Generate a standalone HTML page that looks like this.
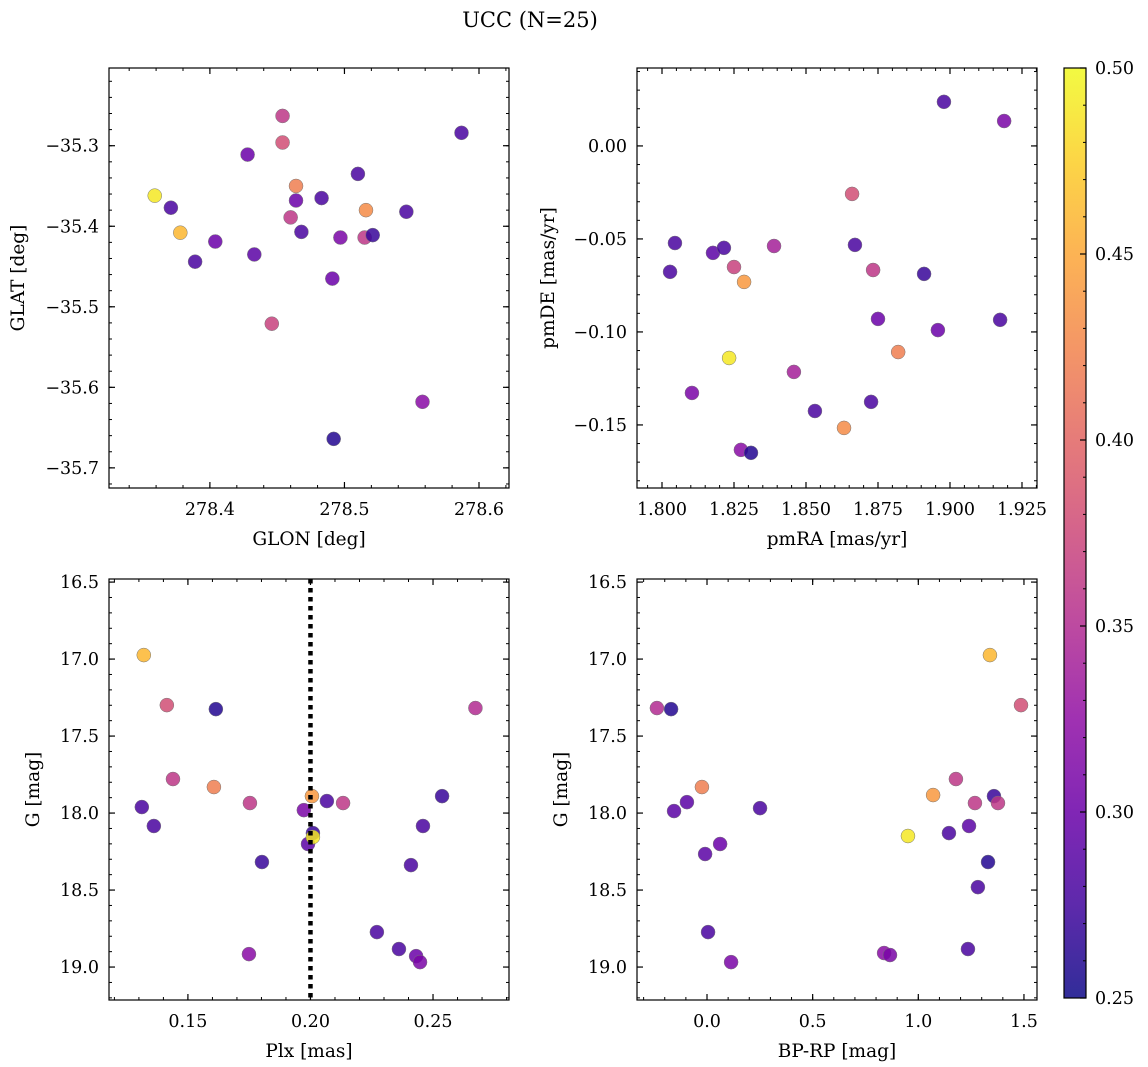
<!DOCTYPE html>
<html><head><meta charset="utf-8"><style>
html,body{margin:0;padding:0;background:#fff}
svg{display:block;font-family:"DejaVu Serif","Liberation Serif",serif}
</style></head><body>
<svg id="fig" width="1148" height="1067" viewBox="0 0 1148 1067">
<text x="530" y="27" font-size="21" text-anchor="middle">UCC (N=25)</text>
</svg>
<script>
// Panel 1: GLON vs GLAT
const glon1=[278.359,278.371,278.378,278.389,278.404,278.428,278.433,278.446,278.454,278.454,278.464,278.460,278.464,278.468,278.483,278.497,278.491,278.492,278.510,278.515,278.516,278.521,278.546,278.558,278.587];
const glat1=[-35.362,-35.377,-35.408,-35.444,-35.419,-35.311,-35.435,-35.521,-35.263,-35.296,-35.350,-35.389,-35.368,-35.407,-35.365,-35.414,-35.465,-35.664,-35.335,-35.414,-35.380,-35.411,-35.382,-35.618,-35.284];
const col1=[0.49,0.28,0.46,0.28,0.30,0.30,0.29,0.37,0.36,0.38,0.42,0.36,0.30,0.28,0.28,0.31,0.30,0.26,0.28,0.36,0.43,0.27,0.28,0.32,0.28];
// Panel 2: pmRA vs pmDE
const pmra2=[1.8028,1.8045,1.8104,1.8177,1.8215,1.825,1.8285,1.8233,1.8274,1.8309,1.8389,1.8458,1.8531,1.8632,1.866,1.867,1.8733,1.8726,1.875,1.882,1.891,1.8979,1.8958,1.9188,1.9174];
const pmde2=[-0.0677,-0.0522,-0.1328,-0.0575,-0.0548,-0.0651,-0.0731,-0.114,-0.1634,-0.165,-0.0538,-0.1215,-0.1425,-0.1516,-0.0258,-0.0532,-0.0667,-0.1376,-0.093,-0.1108,-0.0688,0.0237,-0.099,0.0134,-0.0935];
const col2=[0.28,0.28,0.31,0.29,0.28,0.37,0.44,0.49,0.32,0.26,0.34,0.34,0.28,0.43,0.38,0.28,0.36,0.28,0.30,0.42,0.27,0.28,0.30,0.31,0.28];
// Panel 3: Plx vs G
const plx3=[0.132,0.1312,0.1361,0.1414,0.1439,0.1606,0.1614,0.1753,0.1749,0.1802,0.1973,0.1990,0.2006,0.201,0.201,0.2067,0.2133,0.2271,0.2361,0.241,0.2431,0.2447,0.2459,0.2537,0.2673];
const g3=[16.974,17.961,18.084,17.299,17.779,17.831,17.325,17.935,18.916,18.318,17.981,18.201,17.890,18.13,18.156,17.922,17.935,18.773,18.883,18.338,18.929,18.968,18.084,17.890,17.318];
const col3=[0.46,0.28,0.28,0.38,0.36,0.42,0.26,0.36,0.32,0.27,0.31,0.29,0.44,0.27,0.49,0.28,0.36,0.28,0.28,0.28,0.30,0.31,0.28,0.27,0.35];
const plxLine=0.2;
// Panel 4: BP-RP vs G
const bprp4=[-0.237,-0.170,-0.095,-0.156,-0.024,-0.009,0.062,0.005,0.114,0.251,0.838,0.866,0.951,1.070,1.145,1.178,1.240,1.268,1.282,1.330,1.339,1.235,1.358,1.377,1.486];
const g4=[17.318,17.325,17.929,17.987,17.831,18.266,18.201,18.773,18.968,17.968,18.909,18.922,18.149,17.883,18.13,17.779,18.084,17.935,18.481,18.318,16.974,18.883,17.890,17.935,17.299];
const col4=[0.35,0.26,0.29,0.29,0.42,0.29,0.30,0.28,0.31,0.28,0.32,0.31,0.49,0.44,0.28,0.36,0.29,0.36,0.28,0.26,0.46,0.28,0.27,0.36,0.38];
// tick labels
const xt1=["278.4","278.5","278.6"], yt1=["−35.3","−35.4","−35.5","−35.6","−35.7"];
const xt2=["1.800","1.825","1.850","1.875","1.900","1.925"], yt2=["0.00","−0.05","−0.10","−0.15"];
const xt3=["0.15","0.20","0.25"], yt3=["16.5","17.0","17.5","18.0","18.5","19.0"];
const xt4=["0.0","0.5","1.0","1.5"], yt4=["16.5","17.0","17.5","18.0","18.5","19.0"];
const cbt=["0.25","0.30","0.35","0.40","0.45","0.50"];

const NS="http://www.w3.org/2000/svg";
const svg=document.getElementById('fig');
function el(tag,attrs,parent){const e=document.createElementNS(NS,tag);for(const k in attrs)e.setAttribute(k,attrs[k]);(parent||svg).appendChild(e);return e;}
const stops=["#0d0887","#41049d","#6a00a8","#8f0da4","#b12a90","#cc4778","#e16462","#f2844b","#fca636","#fcce25","#f0f921"];
function hex(h){return[parseInt(h.slice(1,3),16),parseInt(h.slice(3,5),16),parseInt(h.slice(5,7),16)];}
function plasma(t){t=Math.max(0,Math.min(1,t));const f=t*10,i=Math.min(9,Math.floor(f)),r=f-i;const a=hex(stops[i]),b=hex(stops[i+1]);return`rgb(${a.map((v,k)=>Math.round(v+(b[k]-v)*r)).join(',')})`;}
const vmin=0.25,vmax=0.5;
function cmap(v){return plasma((v-vmin)/(vmax-vmin));}
const TF=17.5, LF=18.5;

function panel(o){
  const g=el('g',{});
  
  
  const sx=v=>o.x0+(v-o.xmin)/(o.xmax-o.xmin)*o.w;
  const sy=v=>o.inv? o.y0+(v-o.ymin)/(o.ymax-o.ymin)*o.h : o.y0+(o.ymax-v)/(o.ymax-o.ymin)*o.h;
  for(let i=0;i<o.xs.length;i++){
    const c=el('circle',{cx:sx(o.xs[i]),cy:sy(o.ys[i]),r:7,fill:cmap(o.cs[i]),'fill-opacity':0.85,stroke:'#777','stroke-width':0.5},g);
    
    
  }
  if(o.vline!==undefined){
    const l=el('line',{x1:sx(o.vline),x2:sx(o.vline),y1:o.y0,y2:o.y0+o.h,stroke:'#000','stroke-width':4.5,'stroke-dasharray':'4.5,4.5'},g);
    
    
  }
  const fr=el('rect',{x:o.x0,y:o.y0,width:o.w,height:o.h,fill:'none',stroke:'#000','stroke-width':1.2},g);
  
  
  for(let v=Math.ceil(o.xmin/o.xminor-1e-9)*o.xminor;v<=o.xmax+1e-9;v+=o.xminor){
    const X=sx(v);
    el('line',{x1:X,x2:X,y1:o.y0+o.h,y2:o.y0+o.h-3,stroke:'#000','stroke-width':1},g);
    el('line',{x1:X,x2:X,y1:o.y0,y2:o.y0+3,stroke:'#000','stroke-width':1},g);
  }
  o.xt.forEach((s,i)=>{const v=o.xt0+i*o.xstep,X=sx(v);
    el('line',{x1:X,x2:X,y1:o.y0+o.h,y2:o.y0+o.h-6,stroke:'#000','stroke-width':1.2},g);
    el('line',{x1:X,x2:X,y1:o.y0,y2:o.y0+6,stroke:'#000','stroke-width':1.2},g);
    const t=el('text',{x:X,y:o.y0+o.h+27,'font-size':TF,'text-anchor':'middle'},g);t.textContent=s;
    
    
  });
  for(let v=Math.ceil(o.ymin/o.yminor-1e-9)*o.yminor;v<=o.ymax+1e-9;v+=o.yminor){
    const Y=sy(v);
    el('line',{x1:o.x0,x2:o.x0+3,y1:Y,y2:Y,stroke:'#000','stroke-width':1},g);
    el('line',{x1:o.x0+o.w,x2:o.x0+o.w-3,y1:Y,y2:Y,stroke:'#000','stroke-width':1},g);
  }
  o.yt.forEach((s,i)=>{const v=o.yt0+i*o.ystep,Y=sy(v);
    el('line',{x1:o.x0,x2:o.x0+6,y1:Y,y2:Y,stroke:'#000','stroke-width':1.2},g);
    el('line',{x1:o.x0+o.w,x2:o.x0+o.w-6,y1:Y,y2:Y,stroke:'#000','stroke-width':1.2},g);
    const t=el('text',{x:o.x0-10,y:Y+6,'font-size':TF,'text-anchor':'end'},g);t.textContent=s;
    
    
  });
  const xl=el('text',{x:o.x0+o.w/2,y:o.y0+o.h+57,'font-size':LF,'text-anchor':'middle'},g);xl.textContent=o.xlabel;
  
  
  const yl=el('text',{x:0,y:0,'font-size':LF,'text-anchor':'middle',transform:`translate(${o.ylx},${o.y0+o.h/2}) rotate(-90)`},g);yl.textContent=o.ylabel;
  
  
}
const W=400,H=420;
panel({name:'glon-glat-panel',x0:109,y0:68,w:W,h:H,xmin:278.325,xmax:278.6223,ymin:-35.725,ymax:-35.2035,xs:glon1,ys:glat1,cs:col1,
  xt:xt1,xt0:278.4,xstep:0.1,xminor:0.02,yt:yt1,yt0:-35.3,ystep:-0.1,yminor:0.02,xlabel:'GLON [deg]',ylabel:'GLAT [deg]',ylx:24});
panel({name:'pm-panel',x0:637,y0:68,w:W,h:H,xmin:1.79132,xmax:1.93021,ymin:-0.1839,ymax:0.0419,xs:pmra2,ys:pmde2,cs:col2,
  xt:xt2,xt0:1.8,xstep:0.025,xminor:0.005,yt:yt2,yt0:0,ystep:-0.05,yminor:0.01,xlabel:'pmRA [mas/yr]',ylabel:'pmDE [mas/yr]',ylx:554});
panel({name:'plx-g-panel',x0:109,y0:579,w:W,h:421,inv:true,xmin:0.1178,xmax:0.2810,ymin:16.48,ymax:19.214,xs:plx3,ys:g3,cs:col3,vline:plxLine,
  xt:xt3,xt0:0.15,xstep:0.05,xminor:0.01,yt:yt3,yt0:16.5,ystep:0.5,yminor:0.1,xlabel:'Plx [mas]',ylabel:'G [mag]',ylx:39});
panel({name:'cmd-panel',x0:637,y0:579,w:W,h:421,inv:true,xmin:-0.3313,xmax:1.5617,ymin:16.48,ymax:19.214,xs:bprp4,ys:g4,cs:col4,
  xt:xt4,xt0:0,xstep:0.5,xminor:0.1,yt:yt4,yt0:16.5,ystep:0.5,yminor:0.1,xlabel:'BP-RP [mag]',ylabel:'G [mag]',ylx:567});
const cb=el('g',{});


const defs=el('defs',{});
const lg=el('linearGradient',{id:'cbg',x1:0,y1:1,x2:0,y2:0},defs);
for(let i=0;i<=20;i++){el('stop',{offset:i/20,'stop-color':plasma(i/20),'stop-opacity':0.85},lg);}
const cbx=1064,cby=68,cbw=22,cbh=930;
el('rect',{x:cbx,y:cby,width:cbw,height:cbh,fill:'url(#cbg)',stroke:'#000','stroke-width':1.2},cb);
const cy=v=>cby+(vmax-v)/(vmax-vmin)*cbh;
for(let v=0.25;v<=0.5+1e-9;v+=0.01){el('line',{x1:cbx+cbw,x2:cbx+cbw-3,y1:cy(v),y2:cy(v),stroke:'#000'},cb);}
cbt.forEach((s,i)=>{const v=0.25+i*0.05,Y=cy(v);
  el('line',{x1:cbx+cbw,x2:cbx+cbw-6,y1:Y,y2:Y,stroke:'#000','stroke-width':1.2},cb);
  const t=el('text',{x:cbx+cbw+9,y:Y+6,'font-size':TF},cb);t.textContent=s;
  
  
});
</script>
</body></html>
